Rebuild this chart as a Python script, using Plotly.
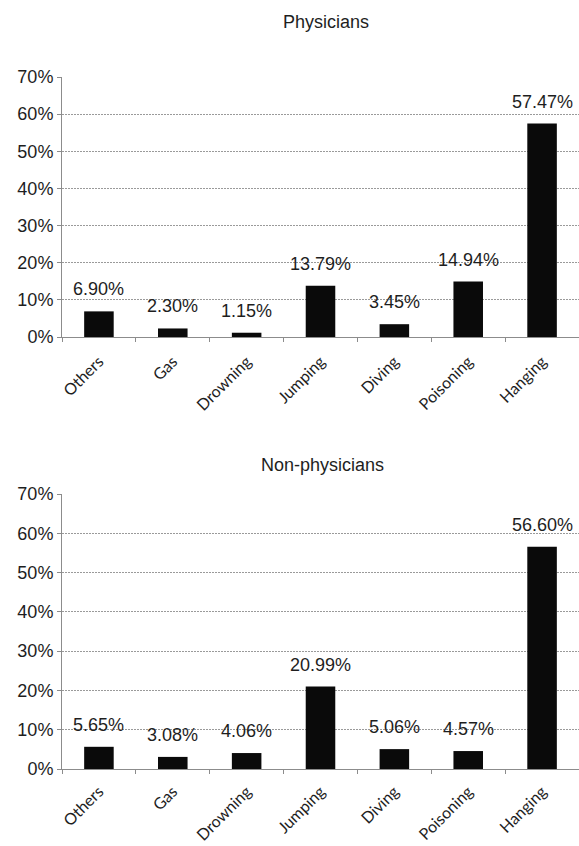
import plotly.graph_objects as go
from plotly.subplots import make_subplots

categories = ["Others", "Gas", "Drowning", "Jumping", "Diving", "Poisoning", "Hanging"]
physicians = [6.90, 2.30, 1.15, 13.79, 3.45, 14.94, 57.47]
non_physicians = [5.65, 3.08, 4.06, 20.99, 5.06, 4.57, 56.60]
y_ticks = [0, 10, 20, 30, 40, 50, 60, 70]
y_tick_labels = [f"{v}%" for v in y_ticks]
titles = ["Physicians", "Non-physicians"]

W, H = 579, 846
ARIAL = "Liberation Sans, Arial"
TXT = "#1e1e1e"
AXIS_GREY = "#8c8c8c"

fig = make_subplots(rows=2, cols=1)

annotations = []
for row, values in ((1, physicians), (2, non_physicians)):
    fig.add_trace(
        go.Bar(
            x=categories,
            y=values,
            marker=dict(color="#0a0a0a", line=dict(width=0)),
            width=0.4,
            showlegend=False,
        ),
        row=row,
        col=1,
    )
    # value labels sitting above each bar
    suffix = "" if row == 1 else "2"
    for cat, v in zip(categories, values):
        annotations.append(dict(
            x=cat, y=v, xref=f"x{suffix}", yref=f"y{suffix}",
            text=f"{v:.2f}%", showarrow=False,
            yanchor="bottom", yshift=10,
            font=dict(family=ARIAL, size=18, color=TXT),
        ))

# pixel-based domains
x_left = 62 / W
top_dom = [1 - 337 / H, 1 - 77 / H]
bot_dom = [1 - 769 / H, 1 - 494 / H]

for i, dom in ((1, top_dom), (2, bot_dom)):
    xa = "xaxis" if i == 1 else f"xaxis{i}"
    ya = "yaxis" if i == 1 else f"yaxis{i}"
    fig.layout[xa].update(
        domain=[x_left, 1.0],
        type="category",
        tickangle=-45,
        tickfont=dict(family="Lato, Open Sans", size=16, color=TXT),
        ticks="outside",
        ticklen=4,
        tickcolor=AXIS_GREY,
        tickson="boundaries",
        ticklabelstandoff=8 if i == 1 else 6,
        showgrid=False,
        showline=True,
        linecolor=AXIS_GREY,
        linewidth=1,
        automargin=False,
    )
    fig.layout[ya].update(
        domain=dom,
        range=[0, 70],
        tickmode="array",
        tickvals=y_ticks,
        ticktext=y_tick_labels,
        tickfont=dict(family=ARIAL, size=18, color=TXT),
        ticks="outside",
        ticklen=4,
        tickcolor=AXIS_GREY,
        showgrid=True,
        gridcolor="#9a9a9a",
        griddash="2px,1px",
        gridwidth=1,
        zeroline=False,
        showline=True,
        linecolor=AXIS_GREY,
        linewidth=1,
        automargin=False,
    )

for title, xpx, ypx in zip(titles, (326, 322), (22, 465)):
    annotations.append(dict(
        text=title, x=xpx / W, y=1 - ypx / H, xref="paper", yref="paper",
        xanchor="center", yanchor="middle", showarrow=False,
        font=dict(family=ARIAL, size=18, color=TXT),
    ))

fig.update_layout(
    width=W,
    height=H,
    margin=dict(l=0, r=0, t=0, b=0),
    paper_bgcolor="white",
    plot_bgcolor="white",
    annotations=annotations,
)

fig.write_html("out.html")
